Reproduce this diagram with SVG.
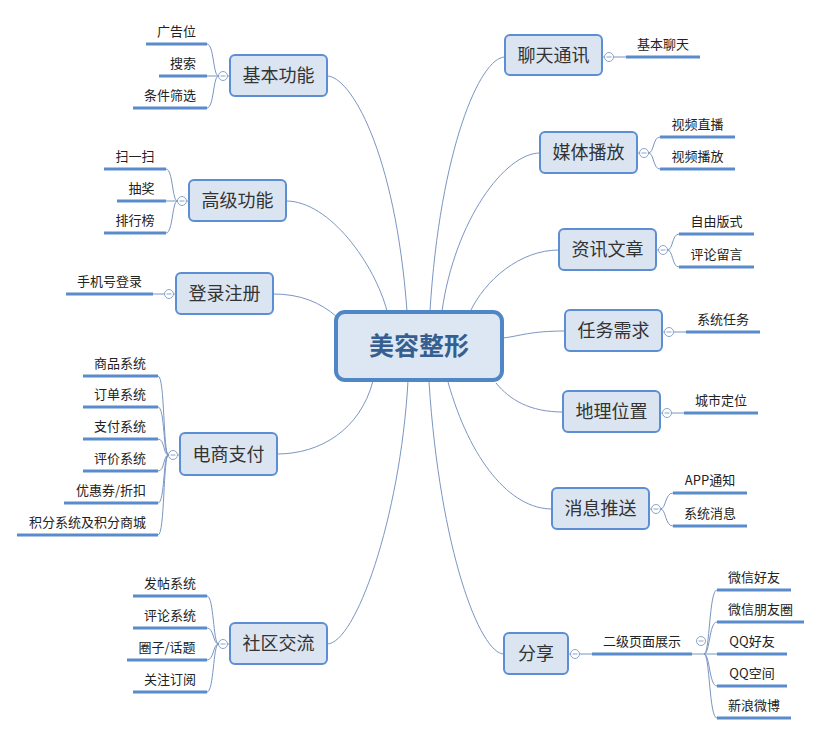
<svg xmlns="http://www.w3.org/2000/svg" width="822" height="735" viewBox="0 0 822 735">
<style>
text{font-family:"Noto Sans CJK SC","Microsoft YaHei",sans-serif;}
.bg{fill:#ffffff;}
.node{fill:#dbe5f1;stroke:#5b8ed3;stroke-width:2;}
.center{fill:#dde7f3;stroke:#4f86c6;stroke-width:4;}
.ntxt{font-size:18px;fill:#333333;text-anchor:middle;}
.ctxt{font-size:25px;font-weight:bold;fill:#365f91;text-anchor:middle;}
.ltxt{font-size:13px;fill:#222222;text-anchor:middle;}
.conn{fill:none;stroke:#7b96c2;stroke-width:1;}
.br{fill:none;stroke:#7b96c2;stroke-width:1;}
.ul{fill:none;stroke:#5a8bcb;stroke-width:3;}
.tog{fill:#ffffff;stroke:#8ca5c9;stroke-width:1;}
.minus{stroke:#8ca5c9;stroke-width:1;}
</style>
<rect class="bg" x="0" y="0" width="822" height="735"/>
<g id="connectors">
<path class="conn" d="M327,76 C350,76 395,150 407,311"/>
<path class="conn" d="M286,201 C330,201 375,265 387,311"/>
<path class="conn" d="M273,294 C300,294 320,302 337,317"/>
<path class="conn" d="M277,454 C320,454 360,430 373,381"/>
<path class="conn" d="M327,644 C355,644 400,520 408,381"/>
<path class="conn" d="M505,57 C480,57 440,150 430,311"/>
<path class="conn" d="M540,153 C505,153 455,220 442,311"/>
<path class="conn" d="M559,250 C520,250 485,280 470,312"/>
<path class="conn" d="M565,331 C530,331 520,336 503,338"/>
<path class="conn" d="M563,412 C530,412 510,400 496,383"/>
<path class="conn" d="M552,509 C510,509 470,460 448,382"/>
<path class="conn" d="M504,654 C480,654 440,550 429,382"/>
</g>
<g id="center">
<rect class="center" x="336" y="312" width="166" height="68" rx="9"/>
<text class="ctxt" x="419" y="355">美容整形</text>
</g>
<g id="n-jiben">
<rect class="node" x="230" y="55" width="97" height="41" rx="5"/>
<text class="ntxt" x="278.5" y="82">基本功能</text>
<line class="br" x1="227.5" y1="76" x2="230" y2="76"/>
<circle class="tog" cx="223" cy="76" r="4.5"/><line class="minus" x1="220.5" y1="76" x2="225.5" y2="76"/>
<path class="br" d="M218.5,76 C213,76 214,44 207,44"/>
<path class="br" d="M218.5,76 L207,76"/>
<path class="br" d="M218.5,76 C213,76 214,108 207,108"/>
<line class="ul" x1="146" y1="44" x2="207" y2="44"/><text class="ltxt" x="176.5" y="35.5">广告位</text>
<line class="ul" x1="159" y1="76" x2="207" y2="76"/><text class="ltxt" x="183" y="67.5">搜索</text>
<line class="ul" x1="133" y1="108" x2="207" y2="108"/><text class="ltxt" x="170" y="99.5">条件筛选</text>
</g>
<g id="n-gaoji">
<rect class="node" x="189" y="180" width="97" height="41" rx="5"/>
<text class="ntxt" x="237.5" y="207">高级功能</text>
<line class="br" x1="186.5" y1="201" x2="189" y2="201"/>
<circle class="tog" cx="182" cy="201" r="4.5"/><line class="minus" x1="179.5" y1="201" x2="184.5" y2="201"/>
<path class="br" d="M177.5,201 C172,201 173,169 166,169"/>
<path class="br" d="M177.5,201 L166,201"/>
<path class="br" d="M177.5,201 C172,201 173,233 166,233"/>
<line class="ul" x1="104" y1="169" x2="166" y2="169"/><text class="ltxt" x="135" y="160.5">扫一扫</text>
<line class="ul" x1="117" y1="201" x2="166" y2="201"/><text class="ltxt" x="141.5" y="192.5">抽奖</text>
<line class="ul" x1="104" y1="233" x2="166" y2="233"/><text class="ltxt" x="135" y="224.5">排行榜</text>
</g>
<g id="n-denglu">
<rect class="node" x="176" y="273" width="97" height="41" rx="5"/>
<text class="ntxt" x="224.5" y="300">登录注册</text>
<line class="br" x1="173.5" y1="294" x2="176" y2="294"/>
<circle class="tog" cx="169" cy="294" r="4.5"/><line class="minus" x1="166.5" y1="294" x2="171.5" y2="294"/>
<path class="br" d="M164.5,294 L153,294"/>
<line class="ul" x1="66" y1="294" x2="153" y2="294"/><text class="ltxt" x="109.5" y="285.5">手机号登录</text>
</g>
<g id="n-dianshang">
<rect class="node" x="180" y="433" width="97" height="42" rx="5"/>
<text class="ntxt" x="228.5" y="460.5">电商支付</text>
<line class="br" x1="177.5" y1="455" x2="180" y2="455"/>
<circle class="tog" cx="173" cy="455" r="4.5"/><line class="minus" x1="170.5" y1="455" x2="175.5" y2="455"/>
<path class="br" d="M168.5,455 C163,455 165,376 158,376"/>
<path class="br" d="M168.5,455 C163,455 165,407 158,407"/>
<path class="br" d="M168.5,455 C163,455 165,439 158,439"/>
<path class="br" d="M168.5,455 C163,455 165,471 158,471"/>
<path class="br" d="M168.5,455 C163,455 165,503 158,503"/>
<path class="br" d="M168.5,455 C163,455 165,535 158,535"/>
<line class="ul" x1="83" y1="376" x2="158" y2="376"/><text class="ltxt" x="120" y="367.5">商品系统</text>
<line class="ul" x1="83" y1="407" x2="158" y2="407"/><text class="ltxt" x="120" y="398.5">订单系统</text>
<line class="ul" x1="83" y1="439" x2="158" y2="439"/><text class="ltxt" x="120" y="430.5">支付系统</text>
<line class="ul" x1="83" y1="471" x2="158" y2="471"/><text class="ltxt" x="120" y="462.5">评价系统</text>
<line class="ul" x1="64" y1="503" x2="158" y2="503"/><text class="ltxt" x="111" y="494.5">优惠券/折扣</text>
<line class="ul" x1="17" y1="535" x2="158" y2="535"/><text class="ltxt" x="87.5" y="526.5">积分系统及积分商城</text>
</g>
<g id="n-shequ">
<rect class="node" x="230" y="623" width="97" height="41" rx="5"/>
<text class="ntxt" x="278.5" y="650">社区交流</text>
<line class="br" x1="227.5" y1="644" x2="230" y2="644"/>
<circle class="tog" cx="223" cy="644" r="4.5"/><line class="minus" x1="220.5" y1="644" x2="225.5" y2="644"/>
<path class="br" d="M218.5,644 C213,644 214,596 207,596"/>
<path class="br" d="M218.5,644 C213,644 214,628 207,628"/>
<path class="br" d="M218.5,644 C213,644 214,660 207,660"/>
<path class="br" d="M218.5,644 C213,644 214,692 207,692"/>
<line class="ul" x1="133" y1="596" x2="207" y2="596"/><text class="ltxt" x="170" y="587.5">发帖系统</text>
<line class="ul" x1="133" y1="628" x2="207" y2="628"/><text class="ltxt" x="170" y="619.5">评论系统</text>
<line class="ul" x1="127" y1="660" x2="207" y2="660"/><text class="ltxt" x="167" y="651.5">圈子/话题</text>
<line class="ul" x1="133" y1="692" x2="207" y2="692"/><text class="ltxt" x="170" y="683.5">关注订阅</text>
</g>
<g id="n-liaotian">
<rect class="node" x="505" y="35" width="97" height="40" rx="5"/>
<text class="ntxt" x="553.5" y="61.5">聊天通讯</text>
<line class="br" x1="602" y1="57" x2="604.5" y2="57"/>
<circle class="tog" cx="609" cy="57" r="4.5"/><line class="minus" x1="606.5" y1="57" x2="611.5" y2="57"/>
<path class="br" d="M613.5,57 L626,57"/>
<line class="ul" x1="626" y1="57" x2="700" y2="57"/><text class="ltxt" x="663" y="48.5">基本聊天</text>
</g>
<g id="n-meiti">
<rect class="node" x="540" y="132" width="97" height="41" rx="5"/>
<text class="ntxt" x="588.5" y="159">媒体播放</text>
<line class="br" x1="637" y1="153" x2="639.5" y2="153"/>
<circle class="tog" cx="644" cy="153" r="4.5"/><line class="minus" x1="641.5" y1="153" x2="646.5" y2="153"/>
<path class="br" d="M648.5,153 C654,153 653,137 660,137"/>
<path class="br" d="M648.5,153 C654,153 653,169 660,169"/>
<line class="ul" x1="660" y1="137" x2="735" y2="137"/><text class="ltxt" x="697.5" y="128.5">视频直播</text>
<line class="ul" x1="660" y1="169" x2="735" y2="169"/><text class="ltxt" x="697.5" y="160.5">视频播放</text>
</g>
<g id="n-zixun">
<rect class="node" x="559" y="229" width="97" height="41" rx="5"/>
<text class="ntxt" x="607.5" y="256">资讯文章</text>
<line class="br" x1="656" y1="250" x2="658.5" y2="250"/>
<circle class="tog" cx="663" cy="250" r="4.5"/><line class="minus" x1="660.5" y1="250" x2="665.5" y2="250"/>
<path class="br" d="M667.5,250 C673,250 672,234 679,234"/>
<path class="br" d="M667.5,250 C673,250 672,267 679,267"/>
<line class="ul" x1="679" y1="234" x2="754" y2="234"/><text class="ltxt" x="716.5" y="225.5">自由版式</text>
<line class="ul" x1="679" y1="267" x2="754" y2="267"/><text class="ltxt" x="716.5" y="258.5">评论留言</text>
</g>
<g id="n-renwu">
<rect class="node" x="565" y="310" width="97" height="41" rx="5"/>
<text class="ntxt" x="613.5" y="337">任务需求</text>
<line class="br" x1="662" y1="332" x2="664.5" y2="332"/>
<circle class="tog" cx="669" cy="332" r="4.5"/><line class="minus" x1="666.5" y1="332" x2="671.5" y2="332"/>
<path class="br" d="M673.5,332 L686,332"/>
<line class="ul" x1="686" y1="332" x2="760" y2="332"/><text class="ltxt" x="723" y="323.5">系统任务</text>
</g>
<g id="n-dili">
<rect class="node" x="563" y="391" width="97" height="41" rx="5"/>
<text class="ntxt" x="611.5" y="418">地理位置</text>
<line class="br" x1="660" y1="413" x2="662.5" y2="413"/>
<circle class="tog" cx="667" cy="413" r="4.5"/><line class="minus" x1="664.5" y1="413" x2="669.5" y2="413"/>
<path class="br" d="M671.5,413 L684,413"/>
<line class="ul" x1="684" y1="413" x2="758" y2="413"/><text class="ltxt" x="721" y="404.5">城市定位</text>
</g>
<g id="n-xiaoxi">
<rect class="node" x="552" y="488" width="97" height="41" rx="5"/>
<text class="ntxt" x="600.5" y="515">消息推送</text>
<line class="br" x1="649" y1="509" x2="651.5" y2="509"/>
<circle class="tog" cx="656" cy="509" r="4.5"/><line class="minus" x1="653.5" y1="509" x2="658.5" y2="509"/>
<path class="br" d="M660.5,509 C666,509 665,493 673,493"/>
<path class="br" d="M660.5,509 C666,509 665,526 673,526"/>
<line class="ul" x1="673" y1="493" x2="747" y2="493"/><text class="ltxt" x="710" y="484.5">APP通知</text>
<line class="ul" x1="673" y1="526" x2="747" y2="526"/><text class="ltxt" x="710" y="517.5">系统消息</text>
</g>
<g id="n-fenxiang">
<rect class="node" x="504" y="633" width="64" height="41" rx="5"/>
<text class="ntxt" x="536" y="660">分享</text>
<line class="br" x1="568" y1="654" x2="570.5" y2="654"/>
<circle class="tog" cx="575" cy="654" r="4.5"/><line class="minus" x1="572.5" y1="654" x2="577.5" y2="654"/>
<path class="br" d="M579.5,654 L592,654"/>
<line class="ul" x1="592" y1="654" x2="692" y2="654"/><text class="ltxt" x="642" y="645.5">二级页面展示</text>
<circle class="tog" cx="701" cy="641" r="4.5"/><line class="minus" x1="698.5" y1="641" x2="703.5" y2="641"/>
<path class="br" d="M692,654 L717,654"/>
<path class="br" d="M704,654 C710,654 709,590 717,590"/>
<path class="br" d="M704,654 C710,654 709,622 717,622"/>
<path class="br" d="M704,654 C710,654 709,686 717,686"/>
<path class="br" d="M704,654 C710,654 709,718 717,718"/>
<line class="ul" x1="717" y1="590" x2="791" y2="590"/><text class="ltxt" x="754" y="581.5">微信好友</text>
<line class="ul" x1="717" y1="622" x2="804" y2="622"/><text class="ltxt" x="760.5" y="613.5">微信朋友圈</text>
<line class="ul" x1="717" y1="654" x2="787" y2="654"/><text class="ltxt" x="752" y="645.5">QQ好友</text>
<line class="ul" x1="717" y1="686" x2="787" y2="686"/><text class="ltxt" x="752" y="677.5">QQ空间</text>
<line class="ul" x1="717" y1="718" x2="791" y2="718"/><text class="ltxt" x="754" y="709.5">新浪微博</text>
</g>
</svg>
